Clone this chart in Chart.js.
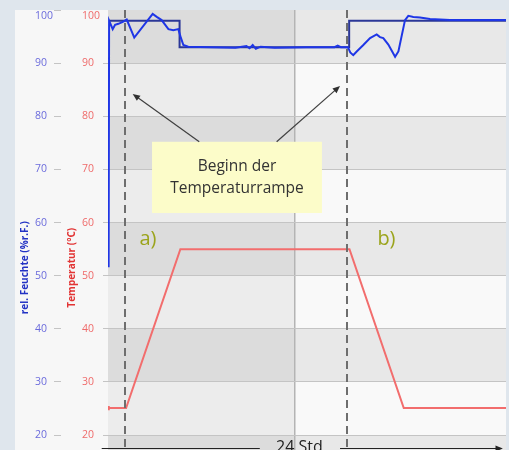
<!DOCTYPE html>
<html>
<head>
<meta charset="utf-8">
<script src="https://cdn.jsdelivr.net/npm/chart.js@4"></script>
<style>
  body { margin: 0; background: #dfe6ed; }
  #panel { position: absolute; left: 15px; top: 10px; width: 491px; height: 440px; background: #f7f7f7; }
</style>
</head>
<body>
<div id="panel"><canvas id="chart" width="491" height="440"></canvas></div>
<script>
// time in hours, 0 = start of the first temperature ramp
var rhHours = [-1.06, -1.03, -0.8, -0.65, -0.44, -0.13, 0.09, 0.57, 1.74, 2.0,
               2.31, 2.74, 3.05, 3.37, 3.54, 3.69, 4.0, 5.5, 7.0, 7.7,
               7.9, 8.1, 8.3, 8.6, 9.5, 11.5, 13.3, 13.5, 13.7, 14.15,
               14.3, 14.49, 14.71, 15.13, 15.56, 15.98, 16.19, 16.4, 16.72, 17.15,
               17.36, 17.78, 17.99, 18.31, 18.73, 19.37, 20.64, 24.2];
var rhValues = [51.6, 98.0, 96.4, 97.2, 97.4, 97.8, 98.2, 94.8, 99.25, 98.7,
                98.1, 96.4, 96.2, 96.4, 94.7, 93.4, 93.1, 93.0, 92.9, 93.2,
                92.8, 93.4, 92.7, 93.1, 92.9, 93.0, 93.0, 93.3, 93.0, 93.0,
                92.0, 91.5, 92.2, 93.4, 94.7, 95.4, 94.9, 94.7, 93.5, 91.2,
                92.2, 98.1, 98.9, 98.7, 98.6, 98.3, 98.1, 98.1];

var setHours = [-1.03, 3.45, 3.45, 14.23, 14.23, 24.2];
var setValues = [98, 98, 93, 93, 98, 98];

var tempHours = [-1.05, -1.05, -1.05, 0.05, 3.5, 14.25, 17.7, 24.2];
var tempValues = [25.5, 24.7, 25.1, 25.1, 55, 55, 25.1, 25.1];

var yTicks = [20, 30, 40, 50, 60, 70, 80, 90, 100];
var rampStarts = [0, 14.1];
var dayBreak = 10.8;

// annotation (hours / value)
var note = { from: 1.7, to: 12.5, top: 75.2, bottom: 61.8, lines: ['Beginn der', 'Temperaturrampe'] };
var arrows = [[4.7, 75.2, 0.47, 84.2], [9.62, 75.2, 13.65, 85.7]];
var marks = [['a)', 1.44, 56.9], ['b)', 16.6, 56.9]];

function pts(xs, ys) {
    return xs.map(function (x, i) { return { x: x, y: ys[i] }; });
}

function arrow(ctx, x1, y1, x2, y2, size) {
    var ang = Math.atan2(y2 - y1, x2 - x1);
    ctx.beginPath();
    ctx.moveTo(x1, y1);
    ctx.lineTo(x2 - Math.cos(ang) * size * 0.6, y2 - Math.sin(ang) * size * 0.6);
    ctx.stroke();
    ctx.beginPath();
    ctx.moveTo(x2, y2);
    ctx.lineTo(x2 - size * Math.cos(ang - 0.4), y2 - size * Math.sin(ang - 0.4));
    ctx.lineTo(x2 - size * Math.cos(ang + 0.4), y2 - size * Math.sin(ang + 0.4));
    ctx.closePath();
    ctx.fill();
}

var decor = {
    id: 'decor',
    beforeDraw: function (chart) {
        var ctx = chart.ctx, a = chart.chartArea, x = chart.scales.x, y = chart.scales.y1;
        var split = x.getPixelForValue(dayBreak);
        for (var v = 10; v < 100; v += 10) {
            var top = y.getPixelForValue(Math.min(v + 10, y.max));
            var bot = y.getPixelForValue(Math.max(v, y.min));
            var dark = (v / 10) % 2 === 1;
            ctx.fillStyle = dark ? '#dcdcdc' : '#ececec';
            ctx.fillRect(a.left, top, split - a.left, bot - top);
            ctx.fillStyle = dark ? '#e8e8e8' : '#f9f9f9';
            ctx.fillRect(split, top, a.right - split, bot - top);
        }
    },
    afterDatasetsDraw: function (chart) {
        var ctx = chart.ctx, a = chart.chartArea, x = chart.scales.x, y = chart.scales.y1;
        ctx.save();

        // dashed markers
        ctx.strokeStyle = '#6e6e6e';
        ctx.lineWidth = 2;
        ctx.setLineDash([8, 5]);
        rampStarts.forEach(function (h) {
            var px = Math.round(x.getPixelForValue(h));
            ctx.beginPath();
            ctx.moveTo(px, a.top);
            ctx.lineTo(px, a.bottom);
            ctx.stroke();
        });
        ctx.setLineDash([]);

        // note box
        var bx0 = x.getPixelForValue(note.from), bx1 = x.getPixelForValue(note.to);
        var by0 = y.getPixelForValue(note.top), by1 = y.getPixelForValue(note.bottom);
        ctx.fillStyle = '#fcfcc9';
        ctx.fillRect(bx0, by0, bx1 - bx0, by1 - by0);
        ctx.fillStyle = '#333333';
        ctx.font = '15.5px "Open Sans"';
        ctx.textAlign = 'center';
        ctx.textBaseline = 'middle';
        var cy = (by0 + by1) / 2;
        ctx.fillText(note.lines[0], (bx0 + bx1) / 2, cy - 10.5);
        ctx.fillText(note.lines[1], (bx0 + bx1) / 2, cy + 11);

        // arrows to the markers
        ctx.strokeStyle = '#404040';
        ctx.fillStyle = '#303030';
        ctx.lineWidth = 1.2;
        arrows.forEach(function (r) {
            arrow(ctx, x.getPixelForValue(r[0]), y.getPixelForValue(r[1]),
                  x.getPixelForValue(r[2]), y.getPixelForValue(r[3]), 8);
        });

        // a) b)
        ctx.fillStyle = '#9ba41c';
        ctx.font = '20px "Open Sans"';
        marks.forEach(function (m) {
            ctx.fillText(m[0], x.getPixelForValue(m[1]), y.getPixelForValue(m[2]));
        });

        // 24 Std. span
        var ly = Math.round(y.getPixelForValue(17.55)) + 0.5;
        ctx.strokeStyle = '#222222';
        ctx.fillStyle = '#222222';
        ctx.lineWidth = 1;
        ctx.beginPath();
        ctx.moveTo(x.getPixelForValue(-1.5), ly);
        ctx.lineTo(x.getPixelForValue(8.55), ly);
        ctx.stroke();
        arrow(ctx, x.getPixelForValue(13.65), ly, x.getPixelForValue(24.0), ly, 8);
        ctx.font = '16px "Open Sans"';
        ctx.fillText('24 Std.', x.getPixelForValue(11.2), ly - 1);

        // axis titles
        ctx.font = 'bold 10px "Open Sans"';
        var ty = y.getPixelForValue(51.5);
        ctx.translate(chart.scales.y.left - 10, ty);
        ctx.rotate(-Math.PI / 2);
        ctx.fillStyle = '#2232c4';
        ctx.fillText('rel. Feuchte (%r.F.)', 0, 0);
        ctx.rotate(Math.PI / 2);
        ctx.translate(chart.scales.y1.left - chart.scales.y.left, 0);
        ctx.rotate(-Math.PI / 2);
        ctx.fillStyle = '#e23434';
        ctx.fillText('Temperatur (°C)', 0, 0);

        ctx.restore();
    }
};

function tickLabel(v) {
    return v === 100 ? ['', '100'] : String(v);
}
function keepTicks(s) {
    s.ticks = s.ticks.filter(function (t) { return yTicks.indexOf(t.value) >= 0; });
}
function noPad(s) {
    s.paddingTop = 0;
    s.paddingBottom = 0;
    s.paddingLeft = 0;
    s.paddingRight = 0;
}

new Chart(document.getElementById('chart'), {
    type: 'line',
    data: {
        datasets: [{
            label: 'Sollwert rel. Feuchte',
            data: pts(setHours, setValues),
            yAxisID: 'y',
            borderColor: '#2b3797',
            borderWidth: 2,
            order: 2
        },
        {
            label: 'rel. Feuchte',
            data: pts(rhHours, rhValues),
            yAxisID: 'y',
            borderColor: '#1f36e6',
            borderWidth: 2,
            order: 1
        },
        {
            label: 'Temperatur',
            data: pts(tempHours, tempValues),
            yAxisID: 'y1',
            borderColor: '#f26d6d',
            borderWidth: 2,
            order: 3
        }]
    },
    options: {
        responsive: false,
        animation: false,
        layout: { padding: { left: 20, right: 0, top: 0, bottom: 0 }, autoPadding: false },
        elements: { point: { radius: 0 }, line: { tension: 0 } },
        plugins: { legend: { display: false }, tooltip: { enabled: false } },
        scales: {
            x: {
                type: 'linear', min: -1.1, max: 24.2,
                ticks: { display: false },
                grid: { drawTicks: false, color: '#b4b4b4', lineWidth: 1.5 },
                border: { display: false },
                afterBuildTicks: function (s) { s.ticks = [{ value: dayBreak }]; },
                afterFit: function (s) { s.height = 0; noPad(s); }
            },
            y: {
                position: 'left', weight: 3, min: 17.2, max: 100,
                ticks: { stepSize: 10, crossAlign: 'far', color: '#6b6bdc', font: { family: 'Open Sans', size: 10.5 }, callback: tickLabel },
                grid: { drawOnChartArea: false, tickLength: 7, color: '#c4c4c4' },
                border: { display: false },
                afterBuildTicks: keepTicks,
                afterFit: function (s) { s.width = 26; noPad(s); }
            },
            gap: {
                type: 'linear', position: 'left', weight: 2,
                ticks: { display: false },
                grid: { display: false },
                border: { display: false },
                afterFit: function (s) { s.width = 21; noPad(s); }
            },
            y1: {
                position: 'left', weight: 1, min: 17.2, max: 100,
                ticks: { stepSize: 10, crossAlign: 'far', color: '#ef6b6b', font: { family: 'Open Sans', size: 10.5 }, callback: tickLabel },
                grid: {
                    tickLength: 5,
                    color: function (c) { return c.tick && c.tick.value === 100 ? 'rgba(0,0,0,0)' : '#c4c4c4'; }
                },
                border: { display: false },
                afterBuildTicks: keepTicks,
                afterFit: function (s) { s.width = 26; noPad(s); }
            }
        }
    },
    plugins: [decor]
});
</script>
</body>
</html>
